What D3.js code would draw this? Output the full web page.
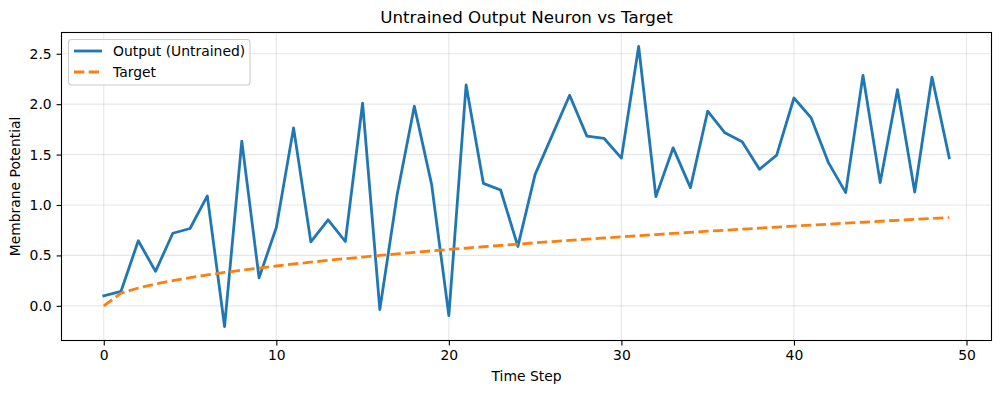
<!DOCTYPE html>
<html>
<head>
<meta charset="utf-8">
<script src="https://cdn.jsdelivr.net/npm/d3@7"></script>
<style>
  body { margin: 0; background: #fff; }
  svg { font-family: "DejaVu Sans", sans-serif; }
  .tick text { font-size: 13.9px; fill: #000; }
</style>
</head>
<body>
<svg id="chart" width="1001" height="393"></svg>
<script>
// time steps 0..49
var steps = d3.range(0, 50);

// output of the untrained neuron
var output = [0.10, 0.144, 0.645, 0.342, 0.72, 0.767, 1.09, -0.205, 1.633, 0.277,
  0.777, 1.765, 0.635, 0.853, 0.638, 2.01, -0.037, 1.10, 1.979, 1.205,
  -0.096, 2.19, 1.215, 1.149, 0.589, 1.304, 1.696, 2.088, 1.683, 1.66,
  1.465, 2.572, 1.083, 1.567, 1.172, 1.93, 1.716, 1.627, 1.354, 1.495,
  2.061, 1.864, 1.42, 1.123, 2.286, 1.222, 2.144, 1.129, 2.269, 1.469];

// target curve
var target = [0, 0.125, 0.177, 0.217, 0.25, 0.28, 0.306, 0.331, 0.354, 0.375,
  0.395, 0.415, 0.433, 0.451, 0.468, 0.484, 0.5, 0.515, 0.53, 0.545,
  0.559, 0.573, 0.586, 0.599, 0.612, 0.625, 0.637, 0.65, 0.661, 0.673,
  0.685, 0.696, 0.707, 0.718, 0.729, 0.74, 0.75, 0.76, 0.771, 0.781,
  0.791, 0.8, 0.81, 0.82, 0.829, 0.839, 0.848, 0.857, 0.866, 0.875];

var xTicks = [0, 10, 20, 30, 40, 50];
var yTicks = [0.0, 0.5, 1.0, 1.5, 2.0, 2.5];

var pLeft = 61.5, pRight = 991.5, pTop = 32.5, pBottom = 340.5;

var svg = d3.select("#chart");

var x = d3.scaleLinear().domain([-2.45, 51.45]).range([pLeft, pRight]);
var yMin = d3.min(output), yMax = d3.max(output), pad = (yMax - yMin) * 0.05;
var y = d3.scaleLinear().domain([yMin - pad, yMax + pad]).range([pBottom, pTop]);

// grid
svg.append("g").selectAll("line").data(xTicks).enter().append("line")
  .attr("x1", function(d) { return x(d); }).attr("x2", function(d) { return x(d); })
  .attr("y1", pTop).attr("y2", pBottom)
  .attr("stroke", "#b0b0b0").attr("stroke-opacity", 0.3).attr("stroke-width", 1.1);
svg.append("g").selectAll("line").data(yTicks).enter().append("line")
  .attr("y1", function(d) { return y(d); }).attr("y2", function(d) { return y(d); })
  .attr("x1", pLeft).attr("x2", pRight)
  .attr("stroke", "#b0b0b0").attr("stroke-opacity", 0.3).attr("stroke-width", 1.1);

// lines
var line = d3.line().x(function(d) { return x(d[0]); }).y(function(d) { return y(d[1]); });

svg.append("path")
  .datum(d3.zip(steps, output))
  .attr("d", line)
  .attr("fill", "none").attr("stroke", "#1f77b4").attr("stroke-width", 2.8)
  .attr("stroke-linejoin", "round").attr("stroke-linecap", "square");

svg.append("path")
  .datum(d3.zip(steps, target))
  .attr("d", line)
  .attr("fill", "none").attr("stroke", "#ff7f0e").attr("stroke-width", 2.8)
  .attr("stroke-dasharray", "10.3,4.4");

// axes
var xAxis = svg.append("g").attr("transform", "translate(0," + pBottom + ")")
  .call(d3.axisBottom(x).tickValues(xTicks).tickFormat(d3.format("d")).tickSize(4.9).tickPadding(4.9));
var yAxis = svg.append("g").attr("transform", "translate(" + pLeft + ",0)")
  .call(d3.axisLeft(y).tickValues(yTicks).tickFormat(d3.format(".1f")).tickSize(4.9).tickPadding(4.9));
[xAxis, yAxis].forEach(function(a) {
  a.select(".domain").remove();
  a.selectAll(".tick line").attr("stroke", "#000").attr("stroke-width", 1.1);
  a.selectAll("text").attr("font-family", "DejaVu Sans");
});

// frame
svg.append("rect")
  .attr("x", pLeft).attr("y", pTop).attr("width", pRight - pLeft).attr("height", pBottom - pTop)
  .attr("fill", "none").attr("stroke", "#000").attr("stroke-width", 1.1);

// title and labels
svg.append("text").attr("x", (pLeft + pRight) / 2).attr("y", 23)
  .attr("text-anchor", "middle").attr("font-size", 16.7).text("Untrained Output Neuron vs Target");
svg.append("text").attr("x", (pLeft + pRight) / 2).attr("y", 381)
  .attr("text-anchor", "middle").attr("font-size", 13.9).text("Time Step");
svg.append("text").attr("transform", "translate(20," + ((pTop + pBottom) / 2) + ") rotate(-90)")
  .attr("text-anchor", "middle").attr("font-size", 13.9).text("Membrane Potential");

// legend
var legend = svg.append("g");
legend.append("rect")
  .attr("x", 68.5).attr("y", 39.5).attr("width", 181.5).attr("height", 45.5)
  .attr("rx", 3).attr("fill", "#fff").attr("fill-opacity", 0.8)
  .attr("stroke", "#cccccc").attr("stroke-width", 1.1);
var items = [
  { name: "Output (Untrained)", color: "#1f77b4", dash: null },
  { name: "Target", color: "#ff7f0e", dash: "10.3,4.4" }
];
items.forEach(function(d, i) {
  var cy = 51 + i * 21;
  legend.append("line")
    .attr("x1", 74).attr("x2", 102).attr("y1", cy).attr("y2", cy)
    .attr("stroke", d.color).attr("stroke-width", 2.8)
    .attr("stroke-dasharray", d.dash);
  legend.append("text").attr("x", 113).attr("y", cy + 5)
    .attr("font-size", 13.9).text(d.name);
});
</script>
</body>
</html>
